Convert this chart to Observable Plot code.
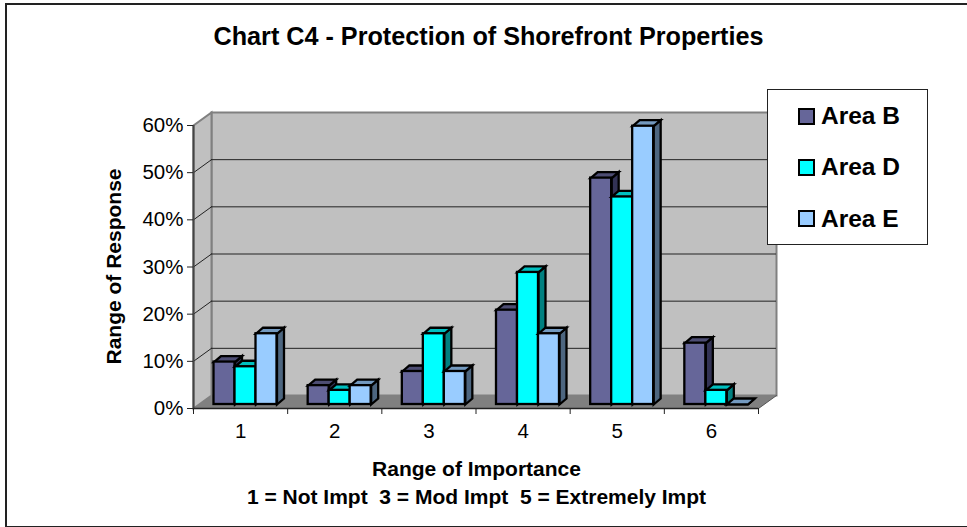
<!DOCTYPE html>
<html>
<head>
<meta charset="utf-8">
<script src="https://cdn.jsdelivr.net/npm/d3@7"></script>
<script src="https://cdn.jsdelivr.net/npm/@observablehq/plot@0.6"></script>
<style>
html,body{margin:0;padding:0;background:#fff;}
#wrap{position:relative;width:967px;height:527px;overflow:hidden;font-family:"Liberation Sans",Arial,sans-serif;}
#frame{position:absolute;left:5px;top:3px;width:970px;height:521px;border:2px solid #222;box-sizing:content-box;}
#wrap svg{position:absolute;left:0;top:0;background:transparent;}
#legend{position:absolute;left:767px;top:89px;width:159px;height:154px;background:#fff;border:1px solid #222;box-sizing:content-box;}
.item{position:absolute;left:30px;display:flex;align-items:center;font-weight:bold;font-size:24.5px;color:#000;height:24px;white-space:nowrap;}
.swatch{display:inline-block;width:13px;height:13px;border:2px solid #000;margin-right:6px;}
</style>
</head>
<body>
<div id="wrap"><div id="frame"></div></div>
<script>
const categories = ["1","2","3","4","5","6"];
const areaB = [9,4,7,20,48,13];
const areaD = [8,3,15,28,44,3];
const areaE = [15,4,7,15,59,0];
const seriesNames = ["Area B","Area D","Area E"];
const yTicks = [0,10,20,30,40,50,60];
const title = "Chart C4 - Protection of Shorefront Properties";
const xTitle = "Range of Importance";
const xNote = "1 = Not Impt  3 = Mod Impt  5 = Extremely Impt";
const yTitle = "Range of Response";
const front = ["#666699","#00ffff","#99ccff"];
const side = ["#333355","#008080","#4d6680"];
const top_ = ["#4d4d73","#00bfbf","#7399bf"];

const width = 967, height = 527;
const margin = {left:193, right:209, top:125, bottom:119};
const pxX = 6/(width-margin.left-margin.right);
const pxY = 60/(height-margin.top-margin.bottom);
const wallDX = 18*pxX, wallDY = 13*pxY;
const barDX = 7*pxX, barDY = 6*pxY;
const base = 4*pxY, groupInset = 20.5*pxX, barW = 21*pxX;
const series = [areaB, areaD, areaE];

const poly = (pts, fill, stroke, strokeWidth) => Plot.line(pts, {
  x:"x", y:"y", curve:"linear-closed", fill, stroke: stroke ?? "none",
  strokeWidth: strokeWidth ?? 0, strokeLinejoin:"miter", strokeMiterlimit:10
});
const label = (text, px, py, opts) => Plot.text([text], {
  frameAnchor:"top-left", dx:px-margin.left, dy:py-margin.top,
  textAnchor:"middle", lineAnchor:"middle", fontSize:21, fontWeight:"bold", fill:"#000", ...opts
});

const marks = [
  // back wall, left wall, floor
  poly([{x:wallDX,y:wallDY},{x:6+wallDX,y:wallDY},{x:6+wallDX,y:60+wallDY},{x:wallDX,y:60+wallDY}], "#c0c0c0", "#808080", 2),
  poly([{x:0,y:0},{x:wallDX,y:wallDY},{x:wallDX,y:60+wallDY},{x:0,y:60}], "#c0c0c0", "#808080", 2),
  poly([{x:0,y:0},{x:6,y:0},{x:6+wallDX,y:wallDY},{x:wallDX,y:wallDY}], "#808080"),
  // gridlines on the walls
  ...yTicks.filter(t => t > 0 && t < 60).flatMap(t => [
    Plot.ruleY([t+wallDY], {x1:wallDX, x2:6+wallDX, stroke:"#222", strokeWidth:1}),
    Plot.line([{x:0,y:t},{x:wallDX,y:t+wallDY}], {x:"x", y:"y", stroke:"#222", strokeWidth:1})
  ]),
  // axes
  Plot.ruleX([0], {y1:0, y2:60, stroke:"#444", strokeWidth:2}),
  Plot.ruleY([0], {x1:0, x2:6, stroke:"#222", strokeWidth:1.5}),
  Plot.line([{x:6,y:0},{x:6+wallDX,y:wallDY}], {x:"x", y:"y", stroke:"#555", strokeWidth:1}),
  Plot.axisY({ticks:yTicks, tickFormat:d=>d+"%", tickSize:6, tickPadding:4, fontSize:20.5, stroke:"#222", fill:"#000", label:null}),
  Plot.ruleX(d3.range(0,7), {y1:0, y2:-6*pxY, stroke:"#222", strokeWidth:1}),
  Plot.axisX({ticks:categories.map((c,i)=>i+0.5), tickFormat:d=>categories[d-0.5], tickSize:0, tickPadding:15, fontSize:20.5, fill:"#000", label:null}),
  // bars
  ...categories.flatMap((c,i) => series.flatMap((s,j) => {
    const x1 = i+groupInset+j*barW, x2 = x1+barW, y1 = base, y2 = base+s[i];
    return [
      poly([{x:x2,y:y1},{x:x2+barDX,y:y1+barDY},{x:x2+barDX,y:y2+barDY},{x:x2,y:y2}], side[j], "#000", 2.3),
      poly([{x:x1,y:y2},{x:x2,y:y2},{x:x2+barDX,y:y2+barDY},{x:x1+barDX,y:y2+barDY}], top_[j], "#000", 2.3),
      Plot.rect([s[i]], {x1, x2, y1, y2, fill:front[j], stroke:"#000", strokeWidth:2.3})
    ];
  })),
  // titles
  label(title, 488, 36, {fontSize:25.2}),
  label(xTitle, 476, 469),
  label(xNote, 476, 497),
  label(yTitle, 114, 266, {rotate:-90})
];

const plot = Plot.plot({
  width, height,
  marginLeft:margin.left, marginRight:margin.right, marginTop:margin.top, marginBottom:margin.bottom,
  x:{domain:[0,6], axis:null},
  y:{domain:[0,60], axis:null},
  style:{fontFamily:'"Liberation Sans",Arial,sans-serif', background:"transparent", overflow:"visible"},
  marks
});
const wrap = document.getElementById("wrap");
wrap.appendChild(plot);

const legend = document.createElement("div");
legend.id = "legend";
seriesNames.forEach((n,i) => {
  const it = document.createElement("div");
  it.className = "item";
  it.style.top = (14 + i*51.3) + "px";
  const sw = document.createElement("span");
  sw.className = "swatch";
  sw.style.background = front[i];
  it.appendChild(sw);
  it.appendChild(document.createTextNode(n));
  legend.appendChild(it);
});
wrap.appendChild(legend);
</script>
</body>
</html>
